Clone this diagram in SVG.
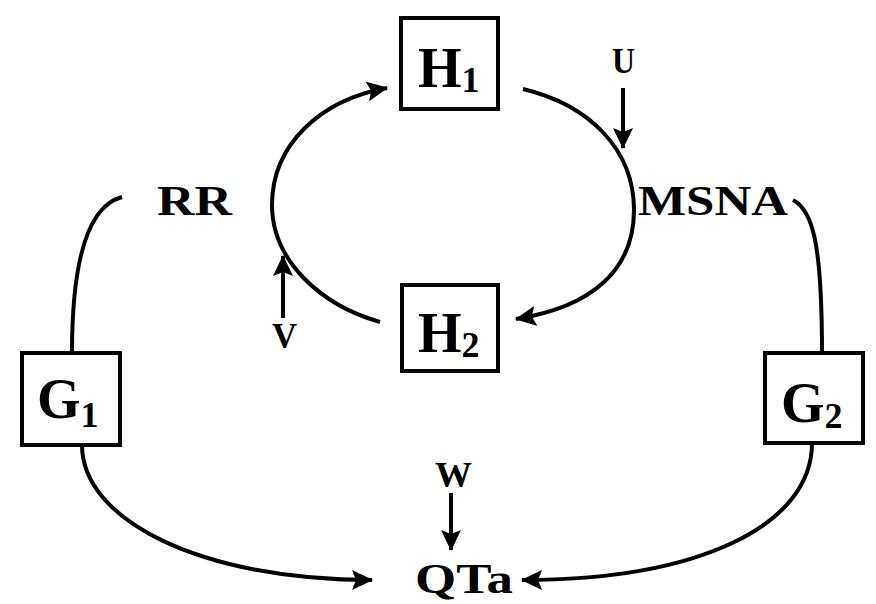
<svg xmlns="http://www.w3.org/2000/svg" width="876" height="604" viewBox="0 0 876 604">
<defs>
<marker id="ah" markerUnits="userSpaceOnUse" markerWidth="24" markerHeight="22" refX="20" refY="10" orient="auto">
<path d="M0,0 L21,10 L0,20 L4,10 Z" fill="#000"/>
</marker>
<style>
.box{fill:#fff;stroke:#000;stroke-width:4}
.big{font-family:"Liberation Serif","Times New Roman",serif;font-weight:bold;font-size:56px;fill:#000}
.sub{font-size:36px}
.lbl{font-family:"Liberation Serif","Times New Roman",serif;font-weight:bold;font-size:42px;fill:#000}
.sm{font-family:"Liberation Serif","Times New Roman",serif;font-weight:bold;font-size:36px;fill:#000}
.con{fill:none;stroke:#000;stroke-width:4}
</style>
</defs>
<rect width="876" height="604" fill="#fff"/>
<g id="connectors">
<path class="con" d="M380,322 C320,305 272,260 272,205 C272,145 320,100 387,88" marker-end="url(#ah)"/>
<path class="con" d="M523,89 C590,105 634,150 634,210 C634,270 592,307 516,319" marker-end="url(#ah)"/>
<path class="con" d="M623,88 L623,148" marker-end="url(#ah)"/>
<path class="con" d="M283,318 L283,256" marker-end="url(#ah)"/>
<path class="con" d="M451,493 L451,550" marker-end="url(#ah)"/>
<path class="con" d="M122,197 C92,205 72,250 72,353"/>
<path class="con" d="M793,200 C812,210 822,240 822,353"/>
<path class="con" d="M82,445 C82,520 200,580 372,580" marker-end="url(#ah)"/>
<path class="con" d="M812,443 C812,525 700,580 522,580" marker-end="url(#ah)"/>
</g>
<g id="H1">
<rect class="box" x="401" y="18" width="97" height="91"/>
<text class="big" x="418" y="87">H<tspan class="sub" dy="5">1</tspan></text>
</g>
<g id="H2">
<rect class="box" x="402" y="285" width="96" height="86"/>
<text class="big" x="418" y="352">H<tspan class="sub" dy="5">2</tspan></text>
</g>
<g id="G1">
<rect class="box" x="22" y="353" width="98" height="92"/>
<text class="big" x="37" y="418">G<tspan class="sub" dy="9">1</tspan></text>
</g>
<g id="G2">
<rect class="box" x="765" y="353" width="98" height="90"/>
<text class="big" x="781" y="422">G<tspan class="sub" dy="6">2</tspan></text>
</g>
<g id="RR"><text class="lbl" x="157" y="215" textLength="75" lengthAdjust="spacingAndGlyphs">RR</text></g>
<g id="MSNA"><text class="lbl" x="638" y="215" textLength="150" lengthAdjust="spacingAndGlyphs">MSNA</text></g>
<g id="QTa"><text class="lbl" x="415" y="593" font-size="44" textLength="98" lengthAdjust="spacingAndGlyphs">QTa</text></g>
<g id="U"><text class="sm" x="612" y="73" font-size="34" textLength="23" lengthAdjust="spacingAndGlyphs">U</text></g>
<g id="V"><text class="sm" x="272" y="348" font-size="38" textLength="25" lengthAdjust="spacingAndGlyphs">V</text></g>
<g id="W"><text class="sm" x="435" y="487" font-size="38" textLength="37" lengthAdjust="spacingAndGlyphs">W</text></g>
</svg>
